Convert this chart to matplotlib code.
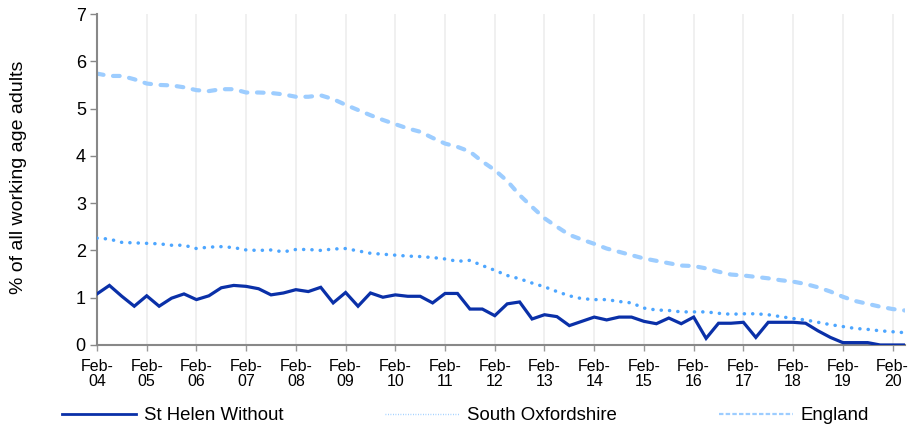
import numpy as np
import matplotlib
matplotlib.use('Agg')
import matplotlib.pyplot as plt
from matplotlib.lines import Line2D

plt.rcParams["font.family"] = ["Liberation Sans", "DejaVu Sans"]

# quarterly series, Feb-04 .. May-20
years = ['04', '05', '06', '07', '08', '09', '10', '11', '12',
         '13', '14', '15', '16', '17', '18', '19', '20']

st_helen = [1.08, 1.26, 1.03, 0.82, 1.04, 0.82, 0.99, 1.08, 0.96, 1.04,
            1.21, 1.26, 1.24, 1.19, 1.06, 1.10, 1.17, 1.13, 1.22, 0.89,
            1.11, 0.82, 1.10, 1.01, 1.06, 1.03, 1.03, 0.89, 1.09, 1.09,
            0.76, 0.76, 0.62, 0.87, 0.91, 0.55, 0.64, 0.60, 0.41, 0.50,
            0.59, 0.53, 0.59, 0.59, 0.50, 0.45, 0.57, 0.45, 0.59, 0.14,
            0.46, 0.46, 0.48, 0.16, 0.48, 0.48, 0.48, 0.46, 0.30, 0.16,
            0.05, 0.05, 0.05, 0.0, 0.0, 0.0]

south_oxon = [2.26, 2.24, 2.17, 2.16, 2.15, 2.14, 2.11, 2.11, 2.04, 2.07,
              2.08, 2.06, 2.01, 2.00, 2.01, 1.97, 2.02, 2.02, 2.00, 2.03,
              2.04, 1.99, 1.94, 1.92, 1.90, 1.88, 1.87, 1.85, 1.82, 1.77,
              1.79, 1.68, 1.58, 1.47, 1.40, 1.31, 1.23, 1.13, 1.04, 0.98,
              0.96, 0.96, 0.92, 0.89, 0.78, 0.74, 0.73, 0.70, 0.70, 0.70,
              0.67, 0.65, 0.66, 0.66, 0.64, 0.60, 0.56, 0.53, 0.48, 0.43,
              0.39, 0.35, 0.33, 0.30, 0.28, 0.26]

england = [5.74, 5.69, 5.69, 5.62, 5.53, 5.50, 5.49, 5.45, 5.39, 5.37,
           5.41, 5.41, 5.34, 5.34, 5.33, 5.30, 5.25, 5.25, 5.28, 5.20,
           5.08, 4.97, 4.86, 4.76, 4.67, 4.58, 4.51, 4.38, 4.26, 4.19,
           4.09, 3.88, 3.70, 3.47, 3.17, 2.92, 2.68, 2.50, 2.33, 2.23,
           2.14, 2.04, 1.97, 1.90, 1.83, 1.78, 1.73, 1.68, 1.67, 1.62,
           1.55, 1.49, 1.47, 1.44, 1.41, 1.37, 1.34, 1.29, 1.22, 1.13,
           1.02, 0.93, 0.87, 0.81, 0.76, 0.73]

c_helen = '#0a30a8'
c_oxon = '#4da6ff'
c_eng = '#9dcdff'

x = np.arange(len(st_helen))

fig = plt.figure(figsize=(9.08, 4.30), dpi=100)
ax = fig.add_axes([0.1068, 0.1977, 0.8899, 0.7697])

ax.plot(x, england, color=c_eng, lw=3.0, ls=(0, (1.6, 2.3)),
        dash_capstyle='round', zorder=2)
ax.plot(x, south_oxon, color=c_oxon, lw=2.5, ls=(0, (0.05, 2.35)),
        dash_capstyle='round', zorder=3)
ax.plot(x, st_helen, color=c_helen, lw=2.3, solid_joinstyle='miter', zorder=4)

ax.set_xlim(0, len(st_helen) - 1)
ax.set_ylim(0, 7)
ax.set_yticks(range(8))

ticks = np.arange(0, len(st_helen), 4)
ax.set_xticks(ticks)
ax.set_xticklabels(['Feb-\n' + y for y in years], fontsize=11.5, linespacing=1.05)
ax.tick_params(axis='x', length=4, width=1, color='#999999', pad=6)
ax.tick_params(axis='y', length=5, width=1, color='#888888', pad=3, labelsize=13)

ax.grid(axis='x', color='#eeeeee', lw=1.2)
ax.set_axisbelow(True)

for s in ['top', 'right']:
    ax.spines[s].set_visible(False)
for s in ['left', 'bottom']:
    ax.spines[s].set_color('#888888')
    ax.spines[s].set_linewidth(1.5)

ax.set_ylabel('% of all working age adults', fontsize=14)
ax.yaxis.set_label_coords(-0.087, 0.506)

handles = [
    Line2D([], [], color=c_helen, lw=2.0),
    Line2D([], [], color=c_oxon, lw=1.0, ls=(0, (0.6, 1.2)), alpha=0.6),
    Line2D([], [], color=c_eng, lw=1.6, ls=(0, (2, 1))),
]
labels = ['St Helen Without', 'South Oxfordshire', 'England']
fig.legend(handles, labels, loc='center left', bbox_to_anchor=(0.0683, 0.033),
           ncol=3, frameon=False, fontsize=13.4, handlelength=3.95,
           handletextpad=0.43, columnspacing=5.5, borderpad=0, borderaxespad=0)

fig.savefig('out.png', dpi=100)
